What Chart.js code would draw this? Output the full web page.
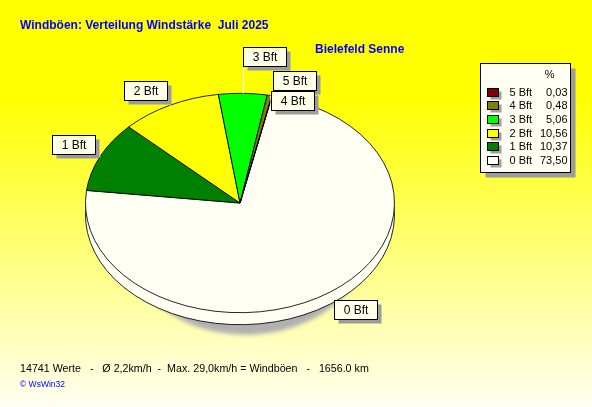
<!DOCTYPE html>
<html>
<head>
<meta charset="utf-8">
<script src="https://cdn.jsdelivr.net/npm/chart.js@4.4.1/dist/chart.umd.min.js"></script>
<style>
  html, body { margin: 0; padding: 0; }
  body {
    width: 592px; height: 407px; overflow: hidden; position: relative;
    background: linear-gradient(180deg, #ffff00 0%, #ffff00 24%, #fffff2 100%);
    font-family: "Liberation Sans", Arial, sans-serif;
  }
  #wrap { position: absolute; left: 0; top: 0; width: 592px; height: 407px; }
  .txt { position: absolute; white-space: pre; }
  #title { left: 20px; top: 18px; color: #0000ff; font-weight: bold; font-size: 12px; }
  #station { left: 315px; top: 42px; color: #0000ff; font-weight: bold; font-size: 12px; }
  #info { left: 20px; top: 362px; color: #000; font-size: 10.7px; }
  #copy { left: 20px; top: 379px; color: #0000ff; font-size: 8.5px; }
</style>
</head>
<body>
<div id="wrap"><canvas id="pie"></canvas></div>
<div class="txt" id="title">Windböen: Verteilung Windstärke  Juli 2025</div>
<div class="txt" id="station">Bielefeld Senne</div>
<div class="txt" id="info">14741 Werte   -   Ø 2,2km/h  -  Max. 29,0km/h = Windböen   -   1656.0 km</div>
<div class="txt" id="copy">© WsWin32</div>
<script>
// data
const labels = ['0 Bft', '1 Bft', '2 Bft', '3 Bft', '4 Bft', '5 Bft'];
const percent = [73.50, 10.37, 10.56, 5.06, 0.48, 0.03];
const colors = ['#fffff4', '#008000', '#ffff00', '#00ff00', '#808000', '#800000'];

const squash = 0.71;  // vertical tilt of the pie
const depth = 12;     // thickness in px

// draws the pie as a tilted disc with a side and a shadow
const tiltPie = {
  id: 'tiltPie',
  beforeDatasetsDraw(chart) {
    const ctx = chart.ctx;
    const arcs = chart.getDatasetMeta(0).data;
    const cx = arcs[0].x, cy = arcs[0].y, R = arcs[0].outerRadius;
    // shadow under the disc
    const sry = 0.9 * squash * R;
    ctx.save();
    ctx.filter = 'blur(2px)';
    ctx.fillStyle = '#b0b0b0';
    ctx.beginPath();
    ctx.ellipse(cx + 6, cy + depth + 10 + squash * R - sry, 0.8 * R, sry, 0, 0, Math.PI * 2);
    ctx.fill();
    ctx.restore();

    ctx.save();
    ctx.translate(cx, cy);
    ctx.scale(1, squash);
    ctx.translate(-cx, -cy);
    // side
    ctx.save();
    ctx.translate(0, depth / squash);
    arcs.forEach(a => a.draw(ctx));
    ctx.restore();
  },
  afterDatasetsDraw(chart) {
    chart.ctx.restore();
  }
};

function fmt(v) {
  return v.toFixed(2).replace('.', ',');
}

// labels with boxes and leader lines
const sliceLabels = {
  id: 'sliceLabels',
  afterDraw(chart) {
    const ctx = chart.ctx;
    const arcs = chart.getDatasetMeta(0).data;
    ctx.save();
    ctx.font = '12px "Liberation Sans", Arial, sans-serif';
    const w = 43, h = 19;
    const placed = [];
    const overlaps = b => placed.some(p => b.x < p.x + p.w && b.x + b.w > p.x && b.y < p.y + p.h && b.y + b.h > p.y);
    const items = [];
    for (let i = arcs.length - 1; i >= 0; i--) {
      const a = arcs[i];
      const mid = (a.startAngle + a.endAngle) / 2;
      const R = a.outerRadius;
      const ex = a.x + R * Math.cos(mid);
      const ey = a.y + squash * R * Math.sin(mid);
      const ux = Math.cos(mid), uy = Math.sin(mid);
      const ax = ex + ux * 6, ay = ey + uy * 6 + (uy >= 0 ? 3 : 0);
      const bx = ux >= 0 ? ax : ax - w;
      const by = uy >= 0 ? ay : ay - h;
      let box = { x: bx, y: by, w: w, h: h };
      let step = 1;
      while (overlaps(box) && step < 8) {
        const down = { x: bx, y: by + step * (h + 2), w: w, h: h };
        const up = { x: bx, y: by - step * (h + 2), w: w, h: h };
        if (!overlaps(down)) box = down;
        else if (!overlaps(up)) box = up;
        step++;
      }
      placed.push(box);
      items.push({ i, ex, ey, box, ux, uy });
    }
    // leader lines
    ctx.strokeStyle = '#ffffff';
    ctx.lineWidth = 1;
    items.forEach(it => {
      const b = it.box;
      const tx = it.ux >= 0 ? b.x : b.x + b.w;
      const ty = it.uy >= 0 ? b.y : b.y + b.h;
      ctx.beginPath();
      ctx.moveTo(Math.round(it.ex) + 0.5, Math.round(it.ey) + 0.5);
      ctx.lineTo(Math.round(tx) + 0.5, Math.round(ty) + 0.5);
      ctx.stroke();
    });
    // boxes
    items.forEach(it => {
      const b = it.box;
      const x = Math.round(b.x) + 0.5, y = Math.round(b.y) + 0.5;
      ctx.fillStyle = '#9c9c9c';
      ctx.fillRect(x + 4, y + 4, b.w, b.h);
      ctx.fillStyle = '#ffffe8';
      ctx.fillRect(x, y, b.w, b.h);
      ctx.strokeStyle = '#000';
      ctx.strokeRect(x, y, b.w, b.h);
      ctx.fillStyle = '#000';
      ctx.textAlign = 'center';
      ctx.textBaseline = 'middle';
      ctx.fillText(labels[it.i], x + b.w / 2, y + b.h / 2 + 1);
    });
    ctx.restore();
  }
};

// legend box with percent values
const pctLegend = {
  id: 'pctLegend',
  afterDraw(chart) {
    const ctx = chart.ctx;
    const x = 480.5, y = 63.5, w = 90, h = 109;
    ctx.save();
    ctx.fillStyle = '#9c9c9c';
    ctx.fillRect(x + 5, y + 5, w, h);
    ctx.fillStyle = '#fffff4';
    ctx.fillRect(x, y, w, h);
    ctx.strokeStyle = '#000';
    ctx.lineWidth = 1;
    ctx.strokeRect(x, y, w, h);
    ctx.font = '11px "Liberation Sans", Arial, sans-serif';
    ctx.textBaseline = 'middle';
    ctx.fillStyle = '#000';
    ctx.textAlign = 'right';
    ctx.fillText('%', x + 74, y + 11);
    for (let r = 0; r < labels.length; r++) {
      const i = labels.length - 1 - r;
      const ry = y + 28 + r * 13.7;
      const sx = Math.round(x + 6) + 0.5, sy = Math.round(ry - 4) + 0.5;
      ctx.fillStyle = '#a0a0a0';
      ctx.fillRect(sx + 3, sy + 3, 11, 8);
      ctx.fillStyle = colors[i];
      ctx.fillRect(sx, sy, 11, 8);
      ctx.strokeStyle = '#000';
      ctx.strokeRect(sx, sy, 11, 8);
      ctx.fillStyle = '#000';
      ctx.textAlign = 'left';
      ctx.fillText(labels[i], x + 29, ry + 1);
      ctx.textAlign = 'right';
      ctx.fillText(fmt(percent[i]), x + 87, ry + 1);
    }
    ctx.restore();
  }
};

new Chart(document.getElementById('pie'), {
  type: 'pie',
  data: {
    labels: labels,
    datasets: [{
      data: percent,
      backgroundColor: colors,
      borderColor: '#000',
      borderWidth: 1,
      clip: false
    }]
  },
  options: {
    responsive: true,
    maintainAspectRatio: false,
    animation: false,
    rotation: 12,
    layout: { padding: { left: 85, right: 197, top: 48, bottom: 49 } },
    plugins: {
      legend: { display: false },
      tooltip: { enabled: false },
      title: { display: false }
    },
    events: []
  },
  plugins: [tiltPie, sliceLabels, pctLegend]
});
</script>
</body>
</html>
